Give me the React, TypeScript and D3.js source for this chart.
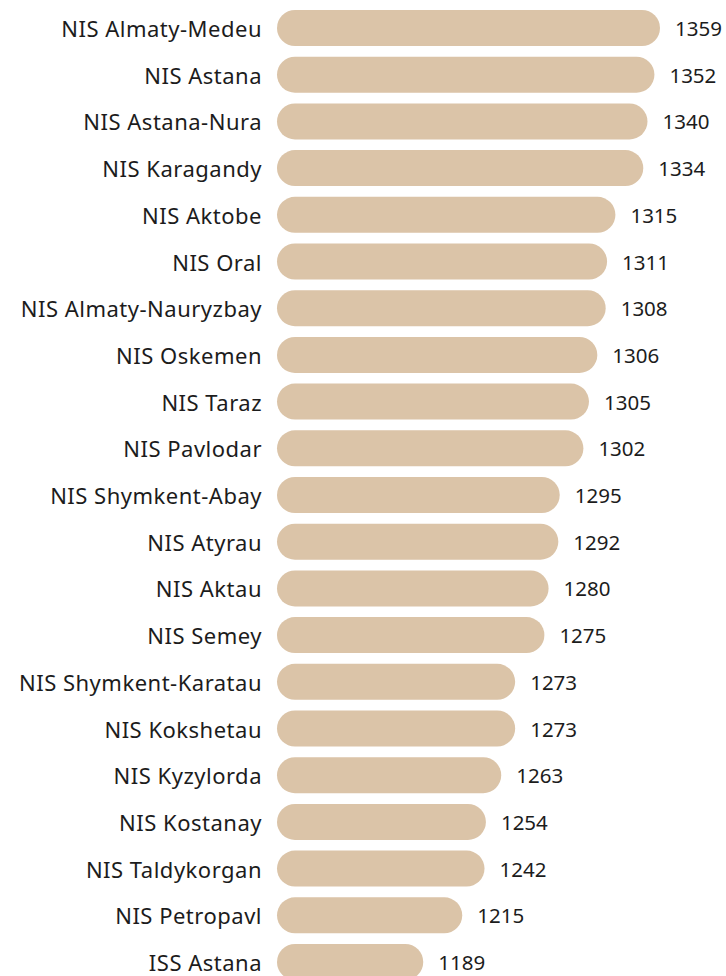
import React from 'react'
import * as d3 from 'd3'

const schools = [
  'NIS Almaty-Medeu',
  'NIS Astana',
  'NIS Astana-Nura',
  'NIS Karagandy',
  'NIS Aktobe',
  'NIS Oral',
  'NIS Almaty-Nauryzbay',
  'NIS Oskemen',
  'NIS Taraz',
  'NIS Pavlodar',
  'NIS Shymkent-Abay',
  'NIS Atyrau',
  'NIS Aktau',
  'NIS Semey',
  'NIS Shymkent-Karatau',
  'NIS Kokshetau',
  'NIS Kyzylorda',
  'NIS Kostanay',
  'NIS Taldykorgan',
  'NIS Petropavl',
  'ISS Astana',
]

// printed scores
const scores = [1359, 1352, 1340, 1334, 1315, 1311, 1308, 1306, 1305, 1302, 1295, 1292, 1280, 1275, 1273, 1273, 1263, 1254, 1242, 1215, 1189]

// bar lengths as drawn in the source (they don't follow the printed scores exactly)
const barValues = [1359, 1355, 1350, 1347, 1327, 1321, 1320, 1314, 1308, 1304, 1287, 1286, 1279, 1276, 1255, 1255, 1245, 1234, 1233, 1217, 1189]

const W = 726
const H = 976
const barLeft = 277
const labelRight = 262

const App = () => {
  const rows = schools.map((name, i) => ({ name, score: scores[i], bar: barValues[i] }))

  const x = d3.scaleLinear().domain([1084, 1359]).range([barLeft, 660])

  const y = d3
    .scaleBand<string>()
    .domain(schools)
    .range([4.65, 4.65 + 46.7 * schools.length])
    .paddingInner(0.229)
    .paddingOuter(0.1145)

  const bh = y.bandwidth()

  return (
    <svg
      width={W}
      height={H}
      style={{ position: 'absolute', left: 0, top: 0, background: '#fff' }}
      fontFamily="'Noto Sans', sans-serif"
    >
      {rows.map((d) => {
        const top = y(d.name) ?? 0
        const cy = top + bh / 2
        const end = x(d.bar)
        return (
          <g key={d.name}>
            <text
              x={labelRight}
              y={cy}
              textAnchor="end"
              dominantBaseline="central"
              fontSize={22}
              letterSpacing={0.5}
              fill="#1c1c1c"
            >
              {d.name}
            </text>
            <rect x={barLeft} y={top} width={end - barLeft} height={bh} rx={bh / 2} ry={bh / 2} fill="#dbc4a8" />
            <text x={end + 15} y={cy} dominantBaseline="central" fontSize={20.5} fill="#1c1c1c">
              {d.score}
            </text>
          </g>
        )
      })}
    </svg>
  )
}

export default App
